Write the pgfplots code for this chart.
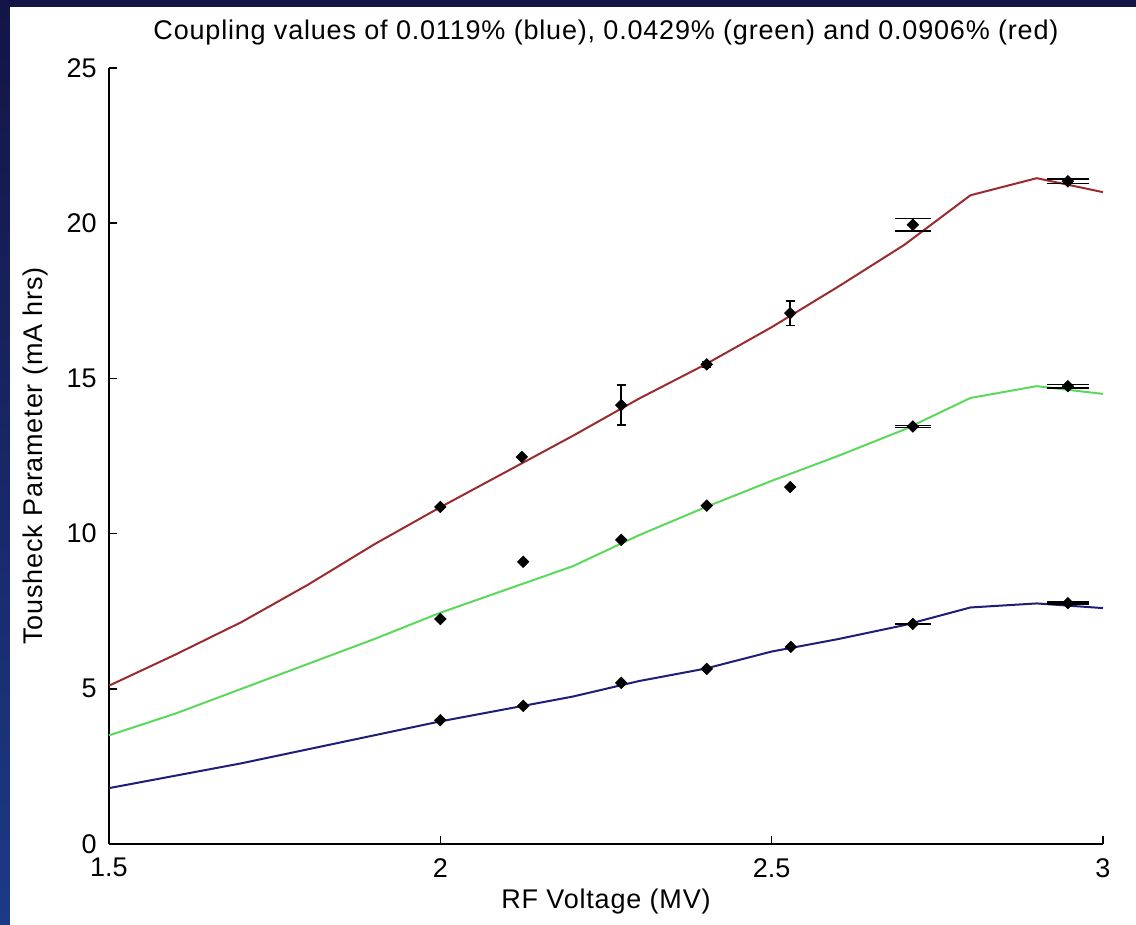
\documentclass[border=0pt]{standalone}
\usepackage{pgfplots}
\pgfplotsset{compat=1.18}
\usepackage{fontspec}
\setmainfont{Liberation Sans}
\newfontfamily\titlefont{Liberation Sans}[LetterSpace=3]
\definecolor{navyA}{HTML}{141446}
\definecolor{navyB}{HTML}{1C3A86}
\definecolor{redline}{HTML}{9A2C30}
\definecolor{greenline}{HTML}{5CD85C}
\definecolor{blueline}{HTML}{1E1E78}
\pgfplotsset{dmd/.style={only marks, mark=square*, mark size=2pt, black, mark options={rotate=45}}}
\begin{document}
\begin{tikzpicture}
\fill[white] (-54.5pt,-40.5pt) rectangle (513.5pt,422pt);
\fill[navyA] (-54.5pt,418.5pt) rectangle (513.5pt,422pt);
\shade[top color=navyA,bottom color=navyB] (-54.5pt,-40.5pt) rectangle (-49.5pt,422pt);
\useasboundingbox (-54.5pt,-40.5pt) rectangle (513.5pt,422pt);
\begin{axis}[
  at={(0pt,0pt)}, anchor=south west,
  scale only axis, width=497pt, height=388pt,
  xmin=1.5, xmax=3, ymin=0, ymax=25,
  axis lines*=left,
  axis line style={-, line width=1pt, black},
  tick align=inside,
  major tick length=4pt,
  tick style={line width=0.8pt, black},
  xtick={1.5,2,2.5,3}, ytick={0,5,10,15,20,25},
  xticklabels={1.5,2,2.5,3},
  yticklabels={0,5,10,15,20,25},
  every tick label/.append style={inner sep=0pt, font=\fontsize{13.5}{14}\selectfont},
  yticklabel style={xshift=-6pt},
  xticklabel style={yshift=-7pt},
  xlabel={\titlefont RF Voltage (MV)},
  ylabel={\titlefont Tousheck Parameter (mA hrs)},
  label style={font=\fontsize{13.5}{14}\selectfont},
  xlabel style={at={(axis description cs:0.5,-0.0747)}, anchor=center},
  ylabel style={at={(axis description cs:-0.0744,0.5)}, anchor=center},
  title={\titlefont Coupling values of 0.0119\% (blue), 0.0429\% (green) and 0.0906\% (red)},
  title style={at={(axis description cs:0.5,1)}, anchor=center, yshift=11.5pt, font=\fontsize{13.5}{14}\selectfont},
  clip=false,
]
% model curves
\addplot[redline, line width=1pt] coordinates {
 (1.5,5.1) (1.6,6.1) (1.7,7.15) (1.8,8.35) (1.9,9.65) (2.0,10.85) (2.1,12.0) (2.2,13.15)
 (2.3,14.35) (2.4,15.45) (2.5,16.65) (2.6,17.95) (2.7,19.3) (2.75,20.1) (2.8,20.9)
 (2.9,21.45) (3.0,21.0)};
\addplot[greenline, line width=1pt] coordinates {
 (1.5,3.5) (1.6,4.2) (1.7,5.0) (1.8,5.8) (1.9,6.6) (2.0,7.45) (2.1,8.2) (2.2,8.95)
 (2.3,9.95) (2.4,10.85) (2.5,11.7) (2.6,12.5) (2.7,13.35) (2.8,14.37) (2.9,14.75) (3.0,14.5)};
\addplot[blueline, line width=1pt] coordinates {
 (1.5,1.8) (1.6,2.2) (1.7,2.6) (1.8,3.05) (1.9,3.5) (2.0,3.95) (2.1,4.35) (2.2,4.75)
 (2.3,5.25) (2.4,5.65) (2.5,6.2) (2.6,6.6) (2.7,7.05) (2.8,7.62) (2.9,7.75) (3.0,7.6)};
% measured points
\addplot[dmd,
  error bars/.cd, y dir=both, y explicit, error bar style={line width=0.8pt},
  error mark options={rotate=90, mark size=2.2pt, line width=0.8pt}]
 coordinates {
 (2.0,10.86) (2.123,12.47) (2.273,14.14) +- (0,0.65) (2.402,15.45) +- (0,0.1)
 (2.528,17.1) +- (0,0.4)};
\addplot[dmd] coordinates {
 (2.0,7.25) (2.125,9.09) (2.273,9.8) (2.402,10.9) (2.528,11.5)
 (2.0,3.99) (2.125,4.45) (2.273,5.19) (2.402,5.64) (2.529,6.35)};
% wide-capped error bars at 2.71
\addplot[dmd,
  error bars/.cd, y dir=both, y explicit, error bar style={line width=0.8pt},
  error mark options={rotate=90, mark size=9pt, line width=0.8pt}]
 coordinates {(2.713,19.95) +- (0,0.2) (2.713,13.45) +- (0,0.03) (2.713,7.09) +- (0,0.02)};
% wide-capped error bars at 2.95
\addplot[dmd,
  error bars/.cd, y dir=both, y explicit, error bar style={line width=0.8pt},
  error mark options={rotate=90, mark size=10.5pt, line width=0.8pt}]
 coordinates {(2.947,21.35) +- (0,0.07) (2.947,14.75) +- (0,0.05) (2.947,7.76) +- (0,0.03)};
\end{axis}
\end{tikzpicture}
\end{document}
